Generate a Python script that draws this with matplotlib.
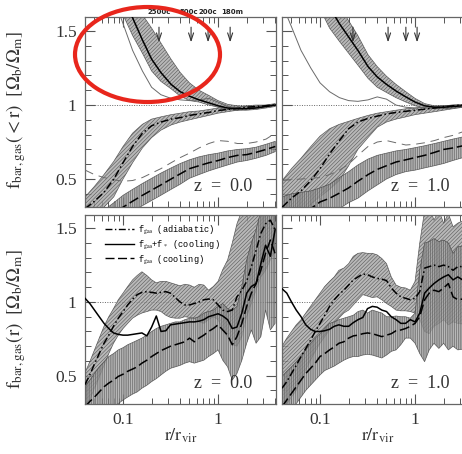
import matplotlib
matplotlib.use('Agg')
import matplotlib.pyplot as plt
from matplotlib.lines import Line2D
from matplotlib.patches import Ellipse
from matplotlib.ticker import FixedLocator, MultipleLocator, NullFormatter, FixedFormatter

plt.rcParams['font.family'] = ['Liberation Serif', 'DejaVu Serif']
plt.rcParams['mathtext.fontset'] = 'stix'
plt.rcParams['hatch.linewidth'] = 0.4

# ---------------- data ----------------
r_top = [0.04, 0.05, 0.063, 0.08, 0.1, 0.126, 0.16, 0.2, 0.25, 0.32, 0.4, 0.5,
         0.63, 0.8, 1.0, 1.26, 1.6, 2.0, 2.5, 3.2, 4.0]

# z = 0.0, cumulative
tl_solid = [2.6, 2.4, 2.2, 1.95, 1.74, 1.59, 1.44, 1.31, 1.22, 1.14, 1.09, 1.06, 1.035, 1.015, 0.995, 0.98, 0.975, 0.975, 0.98, 0.99, 1.0]
tl_solid_hi = [2.9, 2.7, 2.45, 2.2, 1.95, 1.77, 1.61, 1.52, 1.42, 1.31, 1.22, 1.15, 1.1, 1.065, 1.03, 1.005, 0.995, 0.99, 0.99, 1.0, 1.01]
tl_solid_lo = [2.3, 2.1, 1.95, 1.75, 1.61, 1.47, 1.35, 1.23, 1.16, 1.11, 1.06, 1.03, 1.02, 1.0, 0.985, 0.97, 0.965, 0.965, 0.97, 0.98, 0.99]
tl_thin = [2.5, 2.2, 1.95, 1.72, 1.55, 1.37, 1.23, 1.12, 1.07, 1.045, 1.035, 1.03, 1.035, 1.045, 1.02, 0.99, 0.98, 0.98, 0.985, 0.99, 1.0]
tl_dd = [0.30, 0.35, 0.41, 0.50, 0.61, 0.72, 0.81, 0.86, 0.885, 0.905, 0.915, 0.93, 0.94, 0.95, 0.963, 0.97, 0.978, 0.985, 0.99, 0.995, 1.0]
tl_dd_hi = [0.38, 0.45, 0.53, 0.62, 0.72, 0.81, 0.87, 0.905, 0.92, 0.935, 0.945, 0.955, 0.96, 0.97, 0.98, 0.985, 0.99, 0.995, 1.0, 1.0, 1.005]
tl_dd_lo = [0.22, 0.26, 0.31, 0.38, 0.50, 0.61, 0.71, 0.78, 0.83, 0.865, 0.885, 0.9, 0.915, 0.93, 0.945, 0.955, 0.965, 0.975, 0.98, 0.99, 0.995]
tl_da = [0.12, 0.17, 0.21, 0.26, 0.31, 0.35, 0.39, 0.425, 0.46, 0.50, 0.535, 0.57, 0.59, 0.61, 0.625, 0.645, 0.66, 0.665, 0.68, 0.70, 0.72]
tl_da_hi = [0.20, 0.25, 0.29, 0.34, 0.39, 0.43, 0.47, 0.505, 0.54, 0.575, 0.605, 0.63, 0.65, 0.665, 0.675, 0.69, 0.70, 0.705, 0.715, 0.735, 0.755]
tl_da_lo = [0.05, 0.10, 0.14, 0.19, 0.24, 0.28, 0.32, 0.355, 0.39, 0.43, 0.465, 0.505, 0.53, 0.555, 0.575, 0.595, 0.615, 0.625, 0.64, 0.66, 0.685]
tl_thin_da = [0.56, 0.53, 0.51, 0.495, 0.485, 0.49, 0.51, 0.54, 0.57, 0.61, 0.645, 0.675, 0.71, 0.74, 0.76, 0.755, 0.74, 0.74, 0.75, 0.77, 0.81]

# z = 1.0, cumulative
tr_solid = [3.0, 2.7, 2.4, 2.1, 1.85, 1.66, 1.55, 1.46, 1.37, 1.26, 1.19, 1.14, 1.095, 1.055, 1.02, 0.995, 0.985, 0.985, 0.99, 0.995, 1.0]
tr_solid_hi = [3.2, 2.9, 2.6, 2.3, 2.05, 1.8, 1.67, 1.57, 1.47, 1.34, 1.26, 1.195, 1.14, 1.09, 1.045, 1.01, 0.995, 0.995, 1.0, 1.005, 1.01]
tr_solid_lo = [2.8, 2.5, 2.2, 1.9, 1.65, 1.52, 1.43, 1.35, 1.27, 1.18, 1.12, 1.085, 1.05, 1.02, 0.995, 0.98, 0.975, 0.975, 0.98, 0.985, 0.99]
tr_thin = [1.68, 1.53, 1.37, 1.25, 1.15, 1.09, 1.05, 1.03, 1.025, 1.035, 1.055, 1.04, 1.0, 0.985, 0.98, 0.985, 0.99, 0.99, 0.995, 1.0, 1.0]
tr_dd = [0.31, 0.37, 0.42, 0.49, 0.57, 0.67, 0.76, 0.84, 0.885, 0.91, 0.925, 0.94, 0.95, 0.958, 0.965, 0.972, 0.98, 0.988, 0.995, 1.0, 1.0]
tr_dd_hi = [0.49, 0.57, 0.64, 0.72, 0.79, 0.84, 0.87, 0.89, 0.91, 0.93, 0.945, 0.955, 0.965, 0.975, 0.98, 0.985, 0.99, 0.995, 1.0, 1.0, 1.005]
tr_dd_lo = [0.15, 0.2, 0.25, 0.33, 0.38, 0.43, 0.49, 0.59, 0.70, 0.78, 0.85, 0.885, 0.905, 0.92, 0.935, 0.945, 0.955, 0.965, 0.975, 0.985, 0.99]
tr_da = [0.2, 0.23, 0.26, 0.30, 0.345, 0.37, 0.405, 0.44, 0.485, 0.53, 0.565, 0.59, 0.615, 0.63, 0.645, 0.66, 0.68, 0.70, 0.71, 0.725, 0.74]
tr_da_hi = [0.38, 0.40, 0.41, 0.42, 0.44, 0.465, 0.51, 0.55, 0.595, 0.635, 0.66, 0.675, 0.69, 0.70, 0.712, 0.725, 0.74, 0.755, 0.77, 0.785, 0.80]
tr_da_lo = [0.1, 0.12, 0.14, 0.17, 0.2, 0.25, 0.30, 0.34, 0.37, 0.42, 0.46, 0.50, 0.53, 0.55, 0.56, 0.575, 0.59, 0.605, 0.625, 0.645, 0.66]
tr_thin_da = [0.49, 0.495, 0.50, 0.505, 0.51, 0.53, 0.56, 0.60, 0.66, 0.72, 0.75, 0.76, 0.745, 0.73, 0.735, 0.745, 0.76, 0.78, 0.795, 0.82, 0.85]

r_bot = [0.0398, 0.0447, 0.0501, 0.0562, 0.0631, 0.0708, 0.0794, 0.0891, 0.1, 0.112,
         0.126, 0.141, 0.158, 0.178, 0.200, 0.224, 0.251, 0.282, 0.316, 0.355,
         0.398, 0.447, 0.501, 0.562, 0.631, 0.708, 0.794, 0.891, 1.0, 1.12,
         1.26, 1.41, 1.58, 1.78, 2.0, 2.24, 2.51, 2.82, 3.16, 3.55, 3.98]

# z = 0.0, differential
bl_solid = [1.025, 0.99, 0.945, 0.90, 0.855, 0.82, 0.79, 0.78, 0.775, 0.775,
            0.78, 0.785, 0.79, 0.77, 0.83, 0.905, 0.80, 0.805, 0.845, 0.85,
            0.855, 0.86, 0.865, 0.865, 0.87, 0.88, 0.90, 0.91, 0.92, 0.905,
            0.88, 0.82, 0.83, 0.925, 1.06, 1.105, 1.125, 1.26, 1.385, 1.31, 1.49]
bl_dd = [0.44, 0.505, 0.58, 0.65, 0.72, 0.775, 0.835, 0.89, 0.935, 0.98,
         1.02, 1.05, 1.065, 1.07, 1.065, 1.06, 1.065, 1.07, 1.06, 1.03,
         1.0, 0.98, 0.98, 0.99, 1.0, 1.015, 1.02, 1.015, 0.98, 0.945,
         0.935, 0.945, 1.035, 1.08, 1.14, 1.24, 1.35, 1.465, 1.53, 1.555, 1.49]
bl_dd_hi = [0.52, 0.595, 0.675, 0.755, 0.835, 0.90, 0.955, 1.015, 1.06, 1.105,
            1.15, 1.18, 1.205, 1.18, 1.15, 1.13, 1.14, 1.14, 1.13, 1.12,
            1.11, 1.12, 1.115, 1.10, 1.12, 1.115, 1.08, 1.105, 1.14, 1.22,
            1.285, 1.40, 1.53, 1.62, 1.7, 1.75, 1.8, 1.8, 1.8, 1.8, 1.8]
bl_dd_lo = [0.27, 0.335, 0.415, 0.49, 0.57, 0.65, 0.72, 0.775, 0.82, 0.855,
            0.89, 0.91, 0.925, 0.935, 0.945, 0.945, 0.935, 0.91, 0.895, 0.89,
            0.89, 0.90, 0.895, 0.89, 0.865, 0.855, 0.88, 0.90, 0.88, 0.81,
            0.765, 0.71, 0.70, 0.765, 0.90, 0.99, 1.08, 1.17, 1.215, 1.285, 1.35]
bl_da = [0.29, 0.325, 0.355, 0.39, 0.425, 0.45, 0.47, 0.495, 0.51, 0.53,
         0.545, 0.56, 0.585, 0.605, 0.63, 0.65, 0.67, 0.685, 0.70, 0.71,
         0.72, 0.73, 0.755, 0.73, 0.755, 0.775, 0.80, 0.82, 0.845, 0.81,
         0.775, 0.71, 0.765, 0.855, 0.97, 1.06, 1.125, 1.215, 1.33, 1.42, 1.33]
bl_da_hi = [0.425, 0.47, 0.515, 0.56, 0.595, 0.63, 0.65, 0.675, 0.69, 0.71,
            0.725, 0.74, 0.755, 0.775, 0.80, 0.82, 0.835, 0.845, 0.855, 0.865,
            0.865, 0.88, 0.89, 0.89, 0.90, 0.925, 0.935, 0.945, 0.97, 0.99,
            0.955, 0.945, 0.97, 1.105, 1.285, 1.40, 1.49, 1.62, 1.69, 1.69, 1.62]
bl_da_lo = [0.15, 0.18, 0.21, 0.235, 0.27, 0.28, 0.29, 0.31, 0.335, 0.355,
            0.375, 0.39, 0.415, 0.435, 0.46, 0.48, 0.505, 0.53, 0.55, 0.56,
            0.57, 0.585, 0.595, 0.585, 0.595, 0.605, 0.63, 0.65, 0.675, 0.605,
            0.56, 0.47, 0.515, 0.605, 0.72, 0.81, 0.72, 0.765, 0.945, 0.81, 0.855]

# z = 1.0, differential
br_solid = [1.09, 1.06, 1.0, 0.945, 0.90, 0.845, 0.815, 0.80, 0.80, 0.805,
            0.815, 0.835, 0.845, 0.835, 0.835, 0.86, 0.88, 0.895, 0.955, 0.97,
            0.965, 0.945, 0.935, 0.90, 0.88, 0.855, 0.855, 0.88, 0.865, 0.925,
            1.06, 1.095, 1.125, 1.15, 1.17, 1.185, 1.15, 1.17, 1.15, 1.15, 1.15]
br_dd = [0.415, 0.46, 0.515, 0.57, 0.63, 0.685, 0.74, 0.80, 0.855, 0.91,
         0.97, 1.015, 1.05, 1.08, 1.115, 1.15, 1.17, 1.19, 1.185, 1.17,
         1.16, 1.155, 1.145, 1.095, 1.06, 1.035, 1.025, 1.015, 1.025, 1.07,
         1.23, 1.24, 1.25, 1.24, 1.25, 1.24, 1.215, 1.24, 1.24, 1.24, 1.24]
br_dd_hi = [0.70, 0.755, 0.80, 0.845, 0.88, 0.925, 0.97, 1.015, 1.06, 1.105,
            1.14, 1.17, 1.215, 1.23, 1.26, 1.31, 1.33, 1.335, 1.33, 1.33,
            1.32, 1.295, 1.26, 1.17, 1.115, 1.10, 1.095, 1.08, 1.14, 1.40,
            1.62, 1.65, 1.555, 1.62, 1.535, 1.60, 1.51, 1.535, 1.55, 1.55, 1.55]
br_dd_lo = [0.27, 0.31, 0.355, 0.40, 0.47, 0.54, 0.605, 0.665, 0.72, 0.765,
            0.81, 0.855, 0.89, 0.925, 0.945, 0.98, 1.015, 1.05, 1.04, 1.03,
            1.035, 1.015, 0.99, 0.97, 0.945, 0.94, 0.94, 0.935, 0.925, 0.88,
            0.80, 0.785, 0.835, 0.855, 0.88, 0.845, 0.865, 0.855, 0.85, 0.85, 0.85]
br_da = [0.29, 0.335, 0.38, 0.425, 0.47, 0.515, 0.55, 0.585, 0.63, 0.65,
         0.675, 0.695, 0.72, 0.73, 0.755, 0.77, 0.775, 0.785, 0.79, 0.785,
         0.775, 0.765, 0.775, 0.785, 0.805, 0.81, 0.82, 0.835, 0.855, 0.90,
         1.015, 1.06, 1.08, 1.07, 1.095, 1.125, 1.035, 1.015, 1.02, 1.02, 1.02]
br_da_hi = [0.495, 0.53, 0.56, 0.595, 0.63, 0.675, 0.72, 0.755, 0.785, 0.82,
            0.855, 0.865, 0.88, 0.89, 0.90, 0.91, 0.935, 0.945, 0.925, 0.945,
            0.935, 0.925, 0.90, 0.90, 0.905, 0.90, 0.90, 0.89, 0.925, 1.215,
            1.40, 1.41, 1.43, 1.41, 1.42, 1.40, 1.33, 1.375, 1.38, 1.38, 1.38]
br_da_lo = [0.18, 0.22, 0.265, 0.31, 0.355, 0.40, 0.435, 0.47, 0.505, 0.535,
            0.55, 0.565, 0.585, 0.605, 0.62, 0.63, 0.63, 0.64, 0.645, 0.64,
            0.63, 0.62, 0.64, 0.665, 0.675, 0.71, 0.755, 0.755, 0.72, 0.65,
            0.595, 0.675, 0.72, 0.685, 0.72, 0.675, 0.70, 0.675, 0.68, 0.68, 0.68]

# characteristic radii (arrows)
radius_labels = ['2500c', '500c', '200c', '180m']
radii_z0 = [0.239, 0.52, 0.785, 1.34]
radii_z1 = [0.222, 0.52, 0.80, 1.05]

xticks_major = [0.1, 1.0]
xtick_labels = ['0.1', '1']
yticks_major = [0.5, 1.0, 1.5]
ytick_labels = ['0.5', '1', '1.5']
legend_labels = [r'f$_{\rm gas}$ (adiabatic)', r'f$_{\rm gas}$+f$_*$ (cooling)', r'f$_{\rm gas}$ (cooling)']

# ---------------- style ----------------
W, H = 462, 454
fig = plt.figure(figsize=(W / 100, H / 100), dpi=100)

def fpos(left, top, right, bottom):
    return [left / W, 1 - bottom / H, (right - left) / W, (bottom - top) / H]

ax_tl = fig.add_axes(fpos(85, 17, 276, 207))
ax_tr = fig.add_axes(fpos(282, 17, 473, 207))
ax_bl = fig.add_axes(fpos(85, 215, 276, 404))
ax_br = fig.add_axes(fpos(282, 215, 473, 404))

BAND_FC = '#a4a4a4'
BAND_EC = '#3c3c3c'
LS_DD = (0, (5.0, 1.8, 1.0, 1.8))
LS_DA = (0, (6.5, 2.5))
LS_THIN_DA = (0, (9, 6))

def band(ax, x, lo, hi, hatch):
    ax.fill_between(x, lo, hi, facecolor=BAND_FC, edgecolor=BAND_EC, hatch=hatch,
                    linewidth=0.5, alpha=0.78, zorder=2)

def style(ax, ylim, show_y, show_x):
    ax.set_xscale('log')
    ax.set_xlim(0.0398, 4.07)
    ax.set_ylim(*ylim)
    ax.xaxis.set_major_locator(FixedLocator(xticks_major))
    ax.xaxis.set_minor_locator(FixedLocator([0.04, 0.05, 0.06, 0.07, 0.08, 0.09,
                                             0.2, 0.3, 0.4, 0.5, 0.6, 0.7, 0.8, 0.9,
                                             2, 3, 4]))
    ax.xaxis.set_minor_formatter(NullFormatter())
    if show_x:
        ax.xaxis.set_major_formatter(FixedFormatter(xtick_labels))
    else:
        ax.xaxis.set_major_formatter(NullFormatter())
    ax.yaxis.set_major_locator(FixedLocator(yticks_major))
    ax.yaxis.set_minor_locator(MultipleLocator(0.1))
    if show_y:
        ax.yaxis.set_major_formatter(FixedFormatter(ytick_labels))
    else:
        ax.yaxis.set_major_formatter(NullFormatter())
    ax.tick_params(which='both', direction='in', top=True, right=True,
                   color='#555555', labelsize=12.5, labelcolor='#333333', pad=6)
    ax.tick_params(which='major', length=7, width=0.8)
    ax.tick_params(which='minor', length=4, width=0.7)
    for s in ax.spines.values():
        s.set_color('#666666')
        s.set_linewidth(0.9)
    ax.axhline(1.0, color='#666666', lw=0.7, ls=(0, (1, 1.5)), zorder=1)

def top_panel(ax, solid, s_lo, s_hi, thin, dd, dd_lo, dd_hi, da, da_lo, da_hi, thin_da, radii, zlabel):
    band(ax, r_top, dd_lo, dd_hi, '/////////')
    band(ax, r_top, da_lo, da_hi, '|||||||||')
    band(ax, r_top, s_lo, s_hi, '/////////')
    ax.plot(r_top, thin, color='#6a6a6a', lw=0.7, zorder=3)
    ax.plot(r_top, thin_da, color='#6a6a6a', lw=0.7, ls=LS_THIN_DA, zorder=3)
    ax.plot(r_top, solid, color='black', lw=1.1, zorder=4)
    ax.plot(r_top, dd, color='black', lw=1.1, ls=LS_DD, zorder=4)
    ax.plot(r_top, da, color='black', lw=1.1, ls=LS_DA, zorder=4)
    for rv in radii:
        ax.annotate('', xy=(rv, 1.405), xytext=(rv, 1.545),
                    arrowprops=dict(arrowstyle='->,head_length=0.55,head_width=0.18',
                                    color='#333333', lw=0.8), zorder=5)
    ax.text(0.875, 0.085, zlabel, transform=ax.transAxes, ha='right', va='baseline',
            fontsize=13, color='#333333', zorder=6)

def bot_panel(ax, solid, dd, dd_lo, dd_hi, da, da_lo, da_hi, zlabel):
    band(ax, r_bot, dd_lo, dd_hi, '/////////')
    band(ax, r_bot, da_lo, da_hi, '|||||||||')
    ax.plot(r_bot, solid, color='black', lw=1.1, zorder=4)
    ax.plot(r_bot, dd, color='black', lw=1.1, ls=LS_DD, zorder=4)
    ax.plot(r_bot, da, color='black', lw=1.1, ls=LS_DA, zorder=4)
    ax.text(0.875, 0.085, zlabel, transform=ax.transAxes, ha='right', va='baseline',
            fontsize=13, color='#333333', zorder=6)

top_panel(ax_tl, tl_solid, tl_solid_lo, tl_solid_hi, tl_thin, tl_dd, tl_dd_lo, tl_dd_hi,
          tl_da, tl_da_lo, tl_da_hi, tl_thin_da, radii_z0, 'z  =  0.0')
top_panel(ax_tr, tr_solid, tr_solid_lo, tr_solid_hi, tr_thin, tr_dd, tr_dd_lo, tr_dd_hi,
          tr_da, tr_da_lo, tr_da_hi, tr_thin_da, radii_z1, 'z  =  1.0')
bot_panel(ax_bl, bl_solid, bl_dd, bl_dd_lo, bl_dd_hi, bl_da, bl_da_lo, bl_da_hi, 'z  =  0.0')
bot_panel(ax_br, br_solid, br_dd, br_dd_lo, br_dd_hi, br_da, br_da_lo, br_da_hi, 'z  =  1.0')

style(ax_tl, (0.311, 1.595), True, False)
style(ax_tr, (0.311, 1.595), False, False)
style(ax_bl, (0.308, 1.59), True, True)
style(ax_br, (0.308, 1.59), False, True)

# radius labels above top-left panel (500c and 200c are printed back to back)
label_x = [0.239, 0.612, 0.618, 1.40]
label_ha = ['center', 'right', 'left', 'center']
for lab, lx, ha in zip(radius_labels, label_x, label_ha):
    ax_tl.text(lx, 1.008, lab, transform=ax_tl.get_xaxis_transform(), ha=ha, va='bottom',
               fontsize=5, fontweight='bold', family=['DejaVu Sans'], color='#222222')

ax_tl.set_ylabel(r'$\mathrm{f_{bar,gas}(<r)\ \ [\Omega_b/\Omega_m]}$', fontsize=13.5, color='#333333')
ax_tl.yaxis.set_label_coords(-0.30, 0.51)
ax_bl.set_ylabel(r'$\mathrm{f_{bar,gas}(r)\ \ [\Omega_b/\Omega_m]}$', fontsize=13.5, color='#333333')
ax_bl.yaxis.set_label_coords(-0.30, 0.45)
for ax in (ax_bl, ax_br):
    ax.set_xlabel(r'$\mathrm{r/r_{vir}}$', fontsize=13, color='#333333')
    ax.xaxis.set_label_coords(0.5, -0.12)

handles = [Line2D([], [], color='black', lw=1.0, ls=LS_DD),
           Line2D([], [], color='black', lw=1.0),
           Line2D([], [], color='black', lw=1.0, ls=LS_DA)]
ax_bl.legend(handles, legend_labels, loc='upper left', bbox_to_anchor=(0.08, 0.985),
             frameon=False, handlelength=3.3, handletextpad=0.45, labelspacing=0.25,
             borderpad=0.1, prop={'family': ['Liberation Mono'], 'size': 6.2})

# red ellipse annotation
fig.patches.append(Ellipse((147.5 / W, 1 - 54.5 / H), 145 / W, 95 / H,
                           transform=fig.transFigure, facecolor='none',
                           edgecolor='#e8261c', linewidth=3.0, zorder=10))

fig.savefig('out.png', dpi=100)
